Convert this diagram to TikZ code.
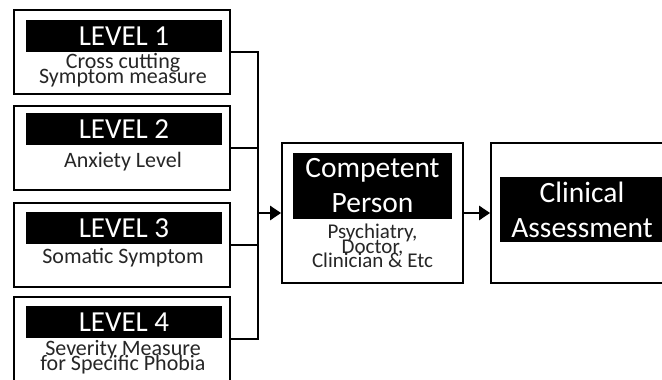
\documentclass[tikz,border=0pt]{standalone}
\usepackage{fontspec}
\setmainfont{Carlito}
\usetikzlibrary{arrows.meta,positioning}
\definecolor{InkGray}{HTML}{262626}
\newcommand{\tightlines}{\lineskiplimit=-30pt\relax}

\tikzset{
  levelbox/.style={draw=black,line width=1.8pt,fill=white,minimum width=216pt,minimum height=84pt,inner sep=0pt},
  bigbox/.style={draw=black,line width=1.8pt,fill=white,minimum width=181pt,minimum height=140pt,inner sep=0pt},
  levelbar/.style={fill=black,text=white,inner sep=0pt,minimum width=196pt,minimum height=32pt,font=\fontsize{29}{29}\selectfont},
  headbar/.style={fill=black,text=white,inner sep=0pt,align=center,font=\fontsize{29.5}{35}\selectfont},
  subtext/.style={text=InkGray,align=center,inner sep=0pt,font=\fontsize{22}{15}\selectfont\tightlines},
  link/.style={line width=2.6pt,line join=miter},
}

\begin{document}
\begin{tikzpicture}[x=1pt,y=-1pt]
  \useasboundingbox (0,0) rectangle (662,380);
  \clip (0,0) rectangle (662,380);

  % four levels on the left
  \node[levelbox] (lvl1) at (122,52) {};
  \node[levelbar] (bar1) at (124,36) {LEVEL 1};
  \node[subtext] (txt1) at (123,70) {Cross cutting\\Symptom measure};

  \node[levelbox] (lvl2) at (122,148) {};
  \node[levelbar] (bar2) at (124,129) {LEVEL 2};
  \node[subtext] (txt2) at (123,162) {Anxiety Level};

  \node[levelbox] (lvl3) at (122,245) {};
  \node[levelbar] (bar3) at (124,228) {LEVEL 3};
  \node[subtext] (txt3) at (123,258) {Somatic Symptom};

  \node[levelbox] (lvl4) at (122,339) {};
  \node[levelbar] (bar4) at (124,322) {LEVEL 4};
  \node[subtext] (txt4) at (123,357) {Severity Measure\\for Specific Phobia};

  % competent person
  \node[bigbox] (comp) at (372.5,213) {};
  \node[headbar,minimum width=159pt,minimum height=66pt] (compbar) at (372.5,186) {Competent\\Person};
  \node[subtext,font=\fontsize{21}{14.5}\selectfont\tightlines] (comptxt) at (372.5,246) {Psychiatry,\\Doctor,\\Clinician \& Etc};

  % clinical assessment
  \node[bigbox,minimum width=182pt] (clin) at (582,213) {};
  \node[headbar,minimum width=164pt,minimum height=65pt] (clinbar) at (582,209.5) {Clinical\\Assessment};

  % connectors
  \coordinate (hub) at (258,213);
  \draw[link] (lvl1.east) -| (hub);
  \draw[link] (lvl2.east) -| (hub);
  \draw[link] (lvl3.east) -| (hub);
  \draw[link] (lvl4.east) -| (hub);
  \draw[link,-{Triangle[length=11pt,width=14pt]}] (hub) -- (comp.west);
  \draw[link,-{Triangle[length=11pt,width=14pt]}] (comp.east) -- (clin.west);
\end{tikzpicture}
\end{document}
